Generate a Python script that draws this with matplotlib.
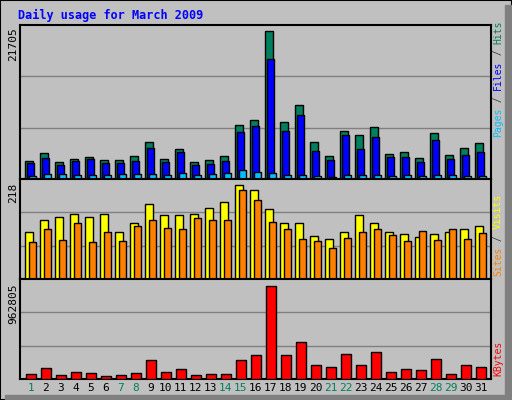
import numpy as np
import matplotlib
matplotlib.use("Agg")
import matplotlib.pyplot as plt
from matplotlib.patches import Rectangle

days = np.arange(1, 32)
weekend = [1, 7, 8, 14, 15, 21, 22, 28, 29]

# values (approximate)
hits = [2670, 3760, 2550, 2990, 3290, 2840, 2840, 3440, 5350, 2990, 4460, 2550, 2840, 3440,
        7850, 8590, 21705, 8300, 10800, 5350, 3440, 6970, 6380, 7560, 3730, 4020, 3140, 6670,
        3580, 4610, 5200]
files = [2400, 3140, 2110, 2700, 2990, 2400, 2400, 2700, 4610, 2550, 4020, 2110, 2250, 2700,
         6820, 7700, 17580, 6970, 9330, 4170, 2840, 6380, 4320, 6080, 3290, 3290, 2550, 5640,
         2990, 3580, 4020]
pages = [490, 780, 780, 630, 630, 630, 780, 780, 780, 630, 930, 630, 780, 930,
         1370, 1080, 930, 630, 630, 490, 340, 630, 630, 630, 490, 630, 490, 630,
         630, 490, 490]
visits_top = [151, 115, 109, 97, 109, 100, 151, 127, 70, 103, 103, 100, 82, 64, 14, 28, 85,
              127, 124, 163, 172, 151, 103, 124, 151, 157, 166, 157, 151, 142, 136]
sites_top = [181, 142, 175, 127, 181, 151, 178, 133, 118, 139, 142, 112, 118, 118, 28, 58, 121,
             145, 172, 178, 199, 169, 151, 142, 160, 178, 148, 175, 145, 172, 154]
visits = [round((290 - t) / 276 * 218) for t in visits_top]
sites = [round((290 - t) / 276 * 218) for t in sites_top]
kb_top = [571, 556, 574, 565, 568, 577, 574, 568, 532, 565, 559, 574, 571, 571, 532, 517, 313,
          517, 478, 547, 553, 514, 547, 508, 565, 559, 562, 529, 571, 547, 553]
kbytes = [round((587 - t) / 274 * 962805) for t in kb_top]

W, H = 512, 400
fig = plt.figure(figsize=(W / 100, H / 100), dpi=100, facecolor="#C0C0C0")
mono = "DejaVu Sans Mono"

# frame / shadow
fig.patches.append(Rectangle((0, 0), 1, 1, transform=fig.transFigure, fill=False,
                             edgecolor="black", lw=1.5))
fig.patches.append(Rectangle((505 / W, 0), 7 / W, 1 - 5 / H, transform=fig.transFigure,
                             color="#808080"))
fig.patches.append(Rectangle((5 / W, 0), 1 - 5 / W, 5 / H, transform=fig.transFigure,
                             color="#808080"))

fig.text(18 / W, 1 - 15 / H, "Daily usage for March 2009", color="#0000FF",
         fontsize=8.5, fontweight="bold", family=mono, va="center")

x0, x1 = 20 / W, 491 / W
XMAX = 31.4


def panel(top, bot):
    ax = fig.add_axes([x0, 1 - bot / H, x1 - x0, (bot - top) / H])
    ax.set_facecolor("#C0C0C0")
    ax.set_xlim(0, XMAX)
    ax.set_xticks([])
    ax.set_yticks([])
    for s in ax.spines.values():
        s.set_linewidth(1.5)
    return ax


def bars(ax, vals, a, b, color):
    ax.bar(np.arange(31) + a, vals, width=b - a, align="edge", color=color,
           edgecolor="black", linewidth=1, zorder=3)


def grid(ax, top):
    for f in (1 / 3, 2 / 3):
        ax.axhline(top * f, color="#808080", lw=1, zorder=1)


# hits / files / pages
ax1 = panel(25, 179)
ax1.set_ylim(0, 21705 * 153 / 147.3)
grid(ax1, 21705 * 153 / 147.3)
bars(ax1, hits, 0.35, 0.88, "#00805C")
bars(ax1, files, 0.46, 0.94, "#0000FF")
bars(ax1, pages, 0.61, 1.07, "#00C0FF")

# visits / sites
ax2 = panel(179, 279)
ytop2 = 218 * 294 / 276
ax2.set_ylim(0, ytop2)
grid(ax2, ytop2)
bars(ax2, visits, 0.35, 0.88, "#FFFF00")
bars(ax2, sites, 0.59, 1.07, "#FF8000")

# kbytes
ax3 = panel(279, 379)
ytop3 = 962805 * 294 / 274
ax3.set_ylim(0, ytop3)
grid(ax3, ytop3)
bars(ax3, kbytes, 0.41, 1.07, "#FF0000")

for i, d in enumerate(days):
    ax3.text(i + 0.72, -0.04, str(d), transform=ax3.get_xaxis_transform(), ha="center",
             va="top", fontsize=8, family=mono,
             color="#00805C" if d in weekend else "black")

# left max labels
for y, lab in ((25, "21705"), (181, "218"), (281, "962805")):
    fig.text(13 / W, 1 - (y + 2) / H, lab, rotation=90, ha="center", va="top",
             fontsize=8, family=mono)


# right legends, bottom-to-top coloured pieces
def legend(ybot, parts, fs=7):
    step = 0.6 * fs * 100 / 72
    y = ybot
    for txt, col in parts:
        fig.text(498 / W, 1 - y / H, txt, rotation=90, ha="center", va="bottom",
                 fontsize=fs, family=mono, color=col)
        y -= len(txt) * step


legend(137, [("Pages", "#00C0FF"), (" / ", "#404040"), ("Files", "#0000FF"),
             (" / ", "#404040"), ("Hits", "#00805C")])
legend(276, [("Sites", "#FF8000"), (" / ", "#404040"), ("Visits", "#FFFF00")])
legend(376, [("KBytes", "#FF0000")])

fig.savefig("out.png", dpi=100, facecolor=fig.get_facecolor())
